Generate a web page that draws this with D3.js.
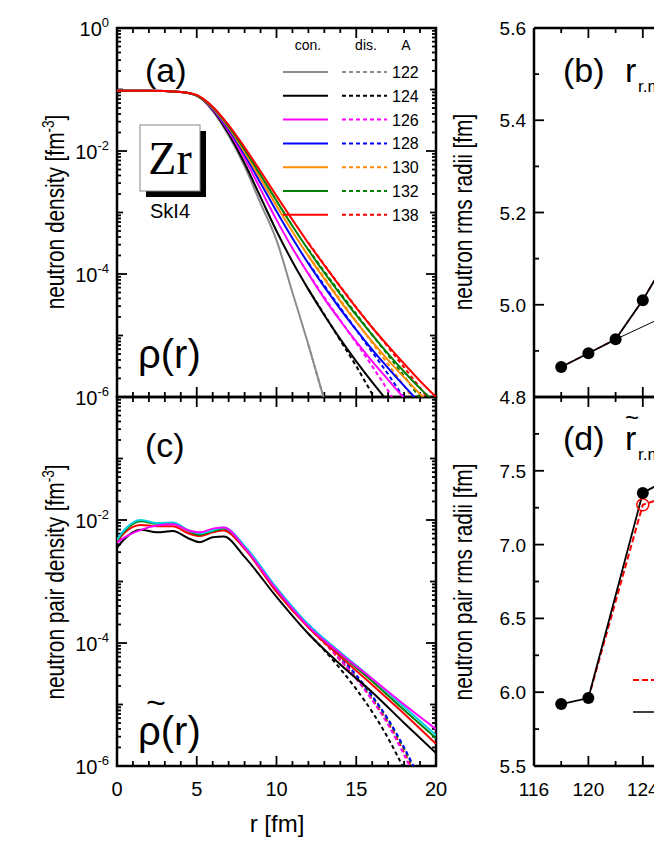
<!DOCTYPE html>
<html><head><meta charset="utf-8">
<script src="https://cdn.jsdelivr.net/npm/d3@7/dist/d3.min.js"></script>
<style>body{margin:0;background:#fff}text{font-family:"Liberation Sans",Arial,sans-serif}</style>
</head><body><svg id="c" width="654" height="846"></svg>
<script>
// ---------- data ----------
const massNumbers = [122,124,126,128,130,132,138];
const curveColors = ["#8c8c8c","#000000","#ff00ff","#0000ff","#ff8c00","#008000","#ff0000"];
// panel (a): log10 neutron density, continuum (solid)
const rA = [0,2,4,5,6,7,8,9,10,11,12,13,14,15,16,17,18,19,20];
const logRhoCon = [
 [-1.02,-1.02,-1.04,-1.1,-1.35,-1.75,-2.25,-2.85,-3.45,-4.3,-5.15,-6.05],
 [-1.02,-1.02,-1.04,-1.1,-1.33,-1.72,-2.2,-2.75,-3.3,-3.8,-4.25,-4.67,-5.06,-5.42,-5.76,-6.08],
 [-1.02,-1.02,-1.04,-1.1,-1.32,-1.68,-2.12,-2.62,-3.12,-3.58,-4.0,-4.4,-4.76,-5.1,-5.42,-5.72,-6.02],
 [-1.02,-1.02,-1.04,-1.1,-1.31,-1.65,-2.06,-2.52,-2.98,-3.42,-3.83,-4.21,-4.57,-4.91,-5.23,-5.53,-5.82,-6.1],
 [-1.02,-1.02,-1.04,-1.1,-1.3,-1.62,-2.02,-2.45,-2.89,-3.31,-3.71,-4.08,-4.44,-4.78,-5.1,-5.4,-5.68,-5.95,-6.2],
 [-1.02,-1.02,-1.04,-1.1,-1.29,-1.6,-1.98,-2.39,-2.81,-3.22,-3.61,-3.98,-4.33,-4.67,-4.99,-5.3,-5.59,-5.86,-6.1],
 [-1.02,-1.02,-1.04,-1.09,-1.28,-1.58,-1.94,-2.33,-2.73,-3.12,-3.5,-3.86,-4.21,-4.55,-4.87,-5.17,-5.46,-5.74,-6.0]
];
// panel (a): discretized (dashed), r from 12
const rAdis = [12,13,14,15,16,17,18,19,20];
const logRhoDis = [
 [-5.15,-6.05],
 [-4.25,-4.66,-5.08,-5.5,-5.95,-6.4],
 [-3.99,-4.38,-4.75,-5.12,-5.5,-5.9,-6.35],
 [-3.82,-4.19,-4.55,-4.91,-5.27,-5.63,-6.02,-6.4],
 [-3.7,-4.06,-4.42,-4.77,-5.12,-5.47,-5.82,-6.2],
 [-3.6,-3.96,-4.31,-4.65,-4.99,-5.32,-5.66,-6.02],
 [-3.49,-3.85,-4.2,-4.54,-4.87,-5.19,-5.52,-5.85,-6.2]
];
// panel (c): log10 neutron pair density
const pairColors = ["#000000","#ff0000","#008000","#00d0e0","#ff00ff"];
const rC = [0,0.5,1.5,2.5,3.5,4.5,5.2,6,6.7,8,10,12,14,16,18,20];
const logPairCon = [
 [-2.45,-2.3,-2.16,-2.2,-2.18,-2.3,-2.36,-2.28,-2.27,-2.6,-3.25,-3.85,-4.35,-4.8,-5.3,-5.79],
 [-2.35,-2.2,-2.08,-2.1,-2.1,-2.22,-2.26,-2.2,-2.17,-2.47,-3.17,-3.75,-4.22,-4.68,-5.15,-5.64],
 [-2.33,-2.17,-2.02,-2.06,-2.05,-2.18,-2.24,-2.18,-2.14,-2.44,-3.13,-3.72,-4.18,-4.62,-5.09,-5.55],
 [-2.32,-2.15,-2.0,-2.05,-2.04,-2.17,-2.22,-2.17,-2.12,-2.42,-3.1,-3.7,-4.15,-4.58,-5.04,-5.5],
 [-2.37,-2.28,-2.16,-2.09,-2.07,-2.17,-2.2,-2.14,-2.12,-2.45,-3.13,-3.73,-4.17,-4.58,-5.0,-5.4]
];
const rCdis = [12,13,14,15,16,17,18,19];
const logPairDis = [
 [-3.85,-4.12,-4.42,-4.75,-5.12,-5.55,-6.05],
 [-3.75,-4.0,-4.28,-4.58,-4.92,-5.3,-5.78,-6.3],
 [-3.72,-3.97,-4.25,-4.55,-4.88,-5.26,-5.72,-6.25],
 [-3.7,-3.95,-4.22,-4.52,-4.86,-5.24,-5.7,-6.22],
 [-3.73,-3.99,-4.27,-4.58,-4.93,-5.33,-5.82,-6.35]
];
const pairDisColors = ["#000000","#ff0000","#008000","#0000ff","#ff00ff"];
// panel (b) rms radii and (d) pair rms radii
const massB = [118,120,122,124,126];
const rmsB = [4.865,4.895,4.925,5.01,5.11];
const massBthin = [122,126];
const rmsBthin = [4.925,4.98];
const massD = [118,120,124,126];
const rmsD = [5.92,5.96,7.35,7.45];
const massDred = [120,124,126];
const rmsDred = [5.96,7.27,7.33];
const logTicks = [0,-2,-4,-6];

// ---------- drawing ----------
const svg = d3.select("#c");
const L=117,R=436,Ta=28,Ba=397,Tc=397,Bc=766;
const x = d3.scaleLinear().domain([0,20]).range([L,R]);
const yA = d3.scaleLog().domain([1e-6,1]).range([Ba,Ta]);
const yC = d3.scaleLog().domain([1e-6,1]).range([Bc,Tc]);
const xR = d3.scaleLinear().domain([116,140]).range([534,534+24*13.6]);
const yB = d3.scaleLinear().domain([4.8,5.6]).range([Ba,Ta]);
const yD = d3.scaleLinear().domain([5.5,8.0]).range([Bc,Tc]);
const defs=svg.append("defs");
defs.append("clipPath").attr("id","ca").append("rect").attr("x",L).attr("y",Ta).attr("width",R-L).attr("height",Ba-Ta);
defs.append("clipPath").attr("id","cc").append("rect").attr("x",L).attr("y",Tc).attr("width",R-L).attr("height",Bc-Tc);
defs.append("clipPath").attr("id","cb").append("rect").attr("x",534).attr("y",Ta).attr("width",200).attr("height",Ba-Ta);
defs.append("clipPath").attr("id","cd").append("rect").attr("x",534).attr("y",Tc).attr("width",200).attr("height",Bc-Tc);

function tick(x1,y1,x2,y2){svg.append("line").attr("x1",x1).attr("y1",y1).attr("x2",x2).attr("y2",y2).attr("stroke","#000").attr("stroke-width",1.8);}
function logFrame(y,top,bot){
  for(let e=-6;e<=0;e++){
    const yy=y(Math.pow(10,e)); const maj=(e%2===0);
    tick(L,yy,L+(maj?10:6),yy); tick(R,yy,R-(maj?10:6),yy);
    if(e<0) for(let m=2;m<=9;m++){const ym=y(m*Math.pow(10,e)); tick(L,ym,L+4,ym); tick(R,ym,R-4,ym);}
  }
  for(let v=0;v<=20;v++){const xx=x(v),maj=v%5===0;tick(xx,bot,xx,bot-(maj?10:5));tick(xx,top,xx,top+(maj?10:5));}
  svg.append("rect").attr("x",L).attr("y",top).attr("width",R-L).attr("height",bot-top).attr("fill","none").attr("stroke","#000").attr("stroke-width",2.5);
  logTicks.forEach(e=>{
    if(e===0 && top===Tc) return;
    const t=svg.append("text").attr("x",L-8).attr("y",y(Math.pow(10,e))+8).attr("text-anchor","end").attr("font-size",20);
    t.append("tspan").text("10");t.append("tspan").attr("dy",-9).attr("font-size",13).text(e);
  });
}
logFrame(yA,Ta,Ba);
logFrame(yC,Tc,Bc);
[0,5,10,15,20].forEach(v=>svg.append("text").attr("x",x(v)).attr("y",796).attr("text-anchor","middle").attr("font-size",20).text(v));
svg.append("text").attr("x",277).attr("y",832).attr("text-anchor","middle").attr("font-size",24).text("r [fm]");
function ylab(cx,cy,parts){const t=svg.append("text").attr("transform",`translate(${cx},${cy}) rotate(-90) scale(0.8,1)`).attr("text-anchor","middle").attr("font-size",26);
 parts.forEach(p=>{const s=t.append("tspan").text(p[0]); if(p[1]) s.attr("dy",p[1]).attr("font-size",p[2]);});}
ylab(64,212,[["neutron density [fm"],["-3",-10,17],["]",10,26]]);
ylab(64,582,[["neutron pair density [fm"],["-3",-10,17],["]",10,26]]);
ylab(472,212,[["neutron rms radii [fm]"]]);
ylab(472,582,[["neutron pair rms radii [fm]"]]);

const lineA = (rs)=>d3.line().curve(d3.curveMonotoneX).x((d,i)=>x(rs[i])).y(d=>yA(Math.pow(10,d)));
const lineC = (rs)=>d3.line().curve(d3.curveMonotoneX).x((d,i)=>x(rs[i])).y(d=>yC(Math.pow(10,d)));
const ga=svg.append("g").attr("clip-path","url(#ca)");
logRhoDis.forEach((d,i)=>ga.append("path").attr("d",lineA(rAdis)(d)).attr("fill","none").attr("stroke",curveColors[i]).attr("stroke-width",2).attr("stroke-dasharray","4,3"));
logRhoCon.forEach((d,i)=>ga.append("path").attr("d",lineA(rA)(d)).attr("fill","none").attr("stroke",curveColors[i]).attr("stroke-width",2));
const gc=svg.append("g").attr("clip-path","url(#cc)");
logPairDis.forEach((d,i)=>gc.append("path").attr("d",lineC(rCdis)(d)).attr("fill","none").attr("stroke",pairDisColors[i]).attr("stroke-width",2).attr("stroke-dasharray","4,3"));
logPairCon.forEach((d,i)=>gc.append("path").attr("d",lineC(rC)(d)).attr("fill","none").attr("stroke",pairColors[i]).attr("stroke-width",2));

svg.append("text").attr("x",308).attr("y",50).attr("text-anchor","middle").attr("font-size",14).text("con.");
svg.append("text").attr("x",366).attr("y",50).attr("text-anchor","middle").attr("font-size",14).text("dis.");
svg.append("text").attr("x",406).attr("y",50).attr("text-anchor","middle").attr("font-size",14).text("A");
massNumbers.forEach((a,i)=>{const yy=72+i*23.8;
  svg.append("line").attr("x1",283).attr("x2",328).attr("y1",yy).attr("y2",yy).attr("stroke",curveColors[i]).attr("stroke-width",2);
  svg.append("line").attr("x1",342).attr("x2",387).attr("y1",yy).attr("y2",yy).attr("stroke",curveColors[i]).attr("stroke-width",2).attr("stroke-dasharray","4,3");
  svg.append("text").attr("x",392).attr("y",yy+6).attr("font-size",16).text(a);});
svg.append("text").attr("x",145).attr("y",82).attr("font-size",34).text("(a)");
svg.append("text").attr("x",145).attr("y",457).attr("font-size",34).text("(c)");
svg.append("rect").attr("x",146).attr("y",131).attr("width",60).attr("height",66).attr("fill","#000");
svg.append("rect").attr("x",140).attr("y",125).attr("width",60).attr("height",66).attr("fill","#fff").attr("stroke","#888").attr("stroke-width",1);
svg.append("text").attr("x",170).attr("y",174).attr("text-anchor","middle").attr("font-size",46).attr("style","font-family:'Liberation Serif',serif").text("Zr");
svg.append("text").attr("x",170).attr("y",218).attr("text-anchor","middle").attr("font-size",20).text("SkI4");
svg.append("text").attr("x",138).attr("y",368).attr("font-size",40).text("ρ(r)");
svg.append("text").attr("x",138).attr("y",745).attr("font-size",40).text("ρ(r)");
svg.append("text").attr("x",146).attr("y",714).attr("font-size",34).text("~");

function linFrame(y,top,bot,maj,minr,dom,labs){
  for(let v=dom[0];v<=dom[1]+1e-9;v+=minr){const yy=y(v);const isM=Math.abs(v/maj-Math.round(v/maj))<1e-6;tick(534,yy,534+(isM?10:5),yy);}
  for(let a=116;a<=140;a+=2){const xx=xR(a),isM=a%4===0;tick(xx,bot,xx,bot-(isM?10:5));tick(xx,top,xx,top+(isM?10:5));}
  svg.append("line").attr("x1",534).attr("x2",534).attr("y1",top).attr("y2",bot).attr("stroke","#000").attr("stroke-width",2.5);
  svg.append("line").attr("x1",534).attr("x2",654).attr("y1",top).attr("y2",top).attr("stroke","#000").attr("stroke-width",2.5);
  svg.append("line").attr("x1",534).attr("x2",654).attr("y1",bot).attr("y2",bot).attr("stroke","#000").attr("stroke-width",2.5);
  labs.forEach(v=>svg.append("text").attr("x",526).attr("y",y(v)+7).attr("text-anchor","end").attr("font-size",19).text(v.toFixed(1)));
}
linFrame(yB,Ta,Ba,0.2,0.1,[4.8,5.6],[4.8,5.0,5.2,5.4,5.6]);
linFrame(yD,Tc,Bc,0.5,0.25,[5.5,8.0],[5.5,6.0,6.5,7.0,7.5]);
[116,120,124,128].forEach(a=>svg.append("text").attr("x",xR(a)).attr("y",796).attr("text-anchor","middle").attr("font-size",19).text(a));

const gb=svg.append("g").attr("clip-path","url(#cb)");
const lb=d3.line().x((d,i)=>xR(massB[i])).y(d=>yB(d));
gb.append("path").attr("d",d3.line().x((d,i)=>xR(massBthin[i])).y(d=>yB(d))(rmsBthin)).attr("fill","none").attr("stroke","#000").attr("stroke-width",1);
gb.append("path").attr("d",lb(rmsB)).attr("fill","none").attr("stroke","#ff0000").attr("stroke-width",1.5).attr("stroke-dasharray","5,3");
gb.append("path").attr("d",lb(rmsB)).attr("fill","none").attr("stroke","#000").attr("stroke-width",1.8);
rmsB.forEach((v,i)=>gb.append("circle").attr("cx",xR(massB[i])).attr("cy",yB(v)).attr("r",6).attr("fill","#000"));
const gd=svg.append("g").attr("clip-path","url(#cd)");
gd.append("path").attr("d",d3.line().x((d,i)=>xR(massDred[i])).y(d=>yD(d))(rmsDred)).attr("fill","none").attr("stroke","#ff0000").attr("stroke-width",2).attr("stroke-dasharray","6,3");
gd.append("path").attr("d",d3.line().x((d,i)=>xR(massD[i])).y(d=>yD(d))(rmsD)).attr("fill","none").attr("stroke","#000").attr("stroke-width",1.8);
gd.append("circle").attr("cx",xR(124)).attr("cy",yD(7.27)).attr("r",6).attr("fill","none").attr("stroke","#ff0000").attr("stroke-width",1.5);
rmsD.forEach((v,i)=>gd.append("circle").attr("cx",xR(massD[i])).attr("cy",yD(v)).attr("r",6).attr("fill","#000"));
svg.append("line").attr("x1",633).attr("x2",654).attr("y1",680).attr("y2",680).attr("stroke","#ff0000").attr("stroke-width",2).attr("stroke-dasharray","6,3");
svg.append("line").attr("x1",633).attr("x2",654).attr("y1",712).attr("y2",712).attr("stroke","#000").attr("stroke-width",1.5);
svg.append("text").attr("x",563).attr("y",82).attr("font-size",34).text("(b)");
svg.append("text").attr("x",625).attr("y",82).attr("font-size",34).text("r");
svg.append("text").attr("x",638).attr("y",92).attr("font-size",17).text("r.m.s.");
svg.append("text").attr("x",563).attr("y",450).attr("font-size",34).text("(d)");
svg.append("text").attr("x",625).attr("y",450).attr("font-size",34).text("r");
svg.append("text").attr("x",625).attr("y",426).attr("font-size",24).text("~");
svg.append("text").attr("x",638).attr("y",460).attr("font-size",17).text("r.m.s.");
</script></body></html>
